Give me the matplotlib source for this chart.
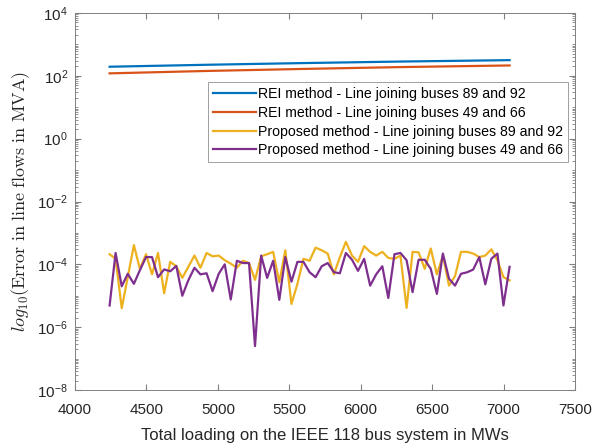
import matplotlib
matplotlib.use('Agg')
import matplotlib.pyplot as plt  # noqa
import numpy as np  # noqa
from matplotlib.ticker import FixedLocator, LogLocator, FuncFormatter, NullFormatter  # noqa

plt.rcParams.update({
    'font.family': ['Liberation Sans', 'DejaVu Sans'],
    'mathtext.fontset': 'cm',
    'font.size': 11,
})

# total system load for each run (MW), base case 4242 MW stepped by 1 %
loading = [
    4242, 4284, 4327, 4369, 4412, 4454, 4497, 4539, 4581, 4624,
    4666, 4709, 4751, 4793, 4836, 4878, 4921, 4963, 5006, 5048,
    5090, 5133, 5175, 5218, 5260, 5303, 5345, 5387, 5430, 5472,
    5515, 5557, 5599, 5642, 5684, 5727, 5769, 5812, 5854, 5896,
    5939, 5981, 6024, 6066, 6108, 6151, 6193, 6236, 6278, 6321,
    6363, 6405, 6448, 6490, 6533, 6575, 6618, 6660, 6702, 6745,
    6787, 6830, 6872, 6914, 6957, 6999, 7042,
]

# REI equivalent errors (MVA)
rei_loading = [4242, 4921, 5600, 6278, 7042]
rei_89_92 = [195, 225, 255, 285, 316]
rei_49_66 = [120, 143, 166, 190, 214]

# proposed method errors (MVA)
prop_89_92 = [
    2.1e-4, 1.5e-4, 4.0e-6, 3.9e-5, 4.1e-4, 7.2e-5, 2.1e-4, 4.8e-5, 2.3e-4, 1.2e-5,
    1.2e-4, 8.7e-5, 3.7e-5, 8.3e-5, 1.9e-4, 7.8e-5, 2.3e-4, 1.8e-4, 1.9e-4, 1.35e-4,
    1.05e-4, 7.8e-5, 1.3e-4, 1.1e-4, 3.2e-5, 1.8e-4, 2.1e-4, 2.5e-4, 2.7e-5, 2.8e-4,
    5.5e-6, 2.4e-5, 1.5e-4, 1.3e-4, 3.4e-4, 2.8e-4, 2.2e-4, 4.8e-5, 1.7e-4, 5.2e-4,
    1.9e-4, 1.2e-4, 3.8e-4, 2.5e-4, 1.9e-4, 2.5e-4, 1.6e-4, 1.5e-4, 1.9e-4, 4.1e-6,
    2.5e-4, 2.4e-4, 7.2e-5, 3.2e-4, 4.8e-5, 1.9e-4, 2.1e-5, 4.2e-5, 2.5e-4, 2.5e-4,
    2.2e-4, 1.7e-4, 1.9e-4, 3.0e-4, 1.35e-4, 3.9e-5, 3.1e-5,
]
prop_49_66 = [
    4.9e-6, 2.3e-4, 2.0e-5, 5.0e-5, 2.4e-5, 6.5e-5, 1.7e-4, 1.7e-4, 3.9e-5, 6.9e-5,
    6.0e-5, 8.9e-5, 1.0e-5, 3.1e-5, 7.8e-5, 4.8e-5, 5.2e-5, 1.4e-5, 5.0e-5, 1.0e-4,
    7.6e-6, 1.3e-4, 1.1e-4, 1.1e-4, 2.5e-7, 1.9e-4, 3.7e-5, 1.3e-4, 7.4e-6, 1.7e-4,
    2.8e-5, 1.2e-4, 1.2e-4, 5.6e-5, 3.9e-5, 8.7e-5, 1.1e-4, 5.6e-5, 5.2e-5, 2.3e-4,
    1.4e-4, 6.2e-5, 1.5e-4, 2.1e-5, 4.8e-5, 8.7e-5, 8.5e-6, 2.1e-4, 2.3e-4, 1.35e-4,
    1.3e-5, 1.4e-4, 1.4e-4, 7.2e-5, 1.15e-5, 2.2e-4, 3.5e-5, 2.1e-5, 5.0e-5, 5.6e-5,
    6.8e-5, 1.7e-4, 2.3e-5, 1.5e-4, 2.2e-4, 4.9e-6, 8.3e-5,
]

labels = [
    'REI method - Line joining buses 89 and 92',
    'REI method - Line joining buses 49 and 66',
    'Proposed method - Line joining buses 89 and 92',
    'Proposed method - Line joining buses 49 and 66',
]
colors = ['#0072BD', '#D95319', '#EDB120', '#7E2F8E']


def exp_label(v, pos):
    exp = int(round(np.log10(v)))
    return r'$\mathregular{10^{%d}}$' % exp


def plot(fname):
    fig = plt.figure(figsize=(6.07, 4.47), dpi=100)
    ax = fig.add_axes([0.1236, 0.1275, 0.8237, 0.8434])

    series = [
        (rei_loading, rei_89_92),
        (rei_loading, rei_49_66),
        (loading, prop_89_92),
        (loading, prop_49_66),
    ]
    for (xs, ys), label, c in zip(series, labels, colors):
        ax.plot(xs, ys, color=c, lw=1.6, label=label)

    ax.set_yscale('log')
    ax.set_xlim(4000, 7500)
    ax.set_ylim(1e-8, 1e4)
    ax.set_xticks(range(4000, 7501, 500))
    ax.yaxis.set_major_locator(FixedLocator([10.0 ** k for k in range(-8, 5, 2)]))
    ax.yaxis.set_minor_locator(LogLocator(base=10, subs=np.arange(1, 10), numticks=40))
    ax.yaxis.set_minor_formatter(NullFormatter())
    ax.yaxis.set_major_formatter(FuncFormatter(exp_label))

    for s in ax.spines.values():
        s.set_color('#808080')
        s.set_linewidth(0.7)
    ax.tick_params(which='both', direction='in', top=True, right=True,
                   colors='#808080', labelcolor='#262626', labelsize=11)
    ax.tick_params(which='major', length=4)
    ax.tick_params(which='minor', length=2)
    ax.tick_params(axis='x', pad=9)
    ax.tick_params(axis='y', pad=5)

    ax.set_xlabel('Total loading on the IEEE 118 bus system in MWs',
                  color='#262626', fontsize=12, labelpad=8)
    ax.set_ylabel(r'$log_{10}(\mathrm{Error\ in\ line\ flows\ in\ MVA})$',
                  color='#262626', fontsize=13, labelpad=4)

    leg = ax.legend(loc='upper right', bbox_to_anchor=(0.986, 0.817),
                    fontsize=10.2, handlelength=3.0, handletextpad=0.15,
                    labelspacing=0.34, borderpad=0.35, borderaxespad=0,
                    fancybox=False, framealpha=1)
    leg.get_frame().set_edgecolor('#a0a0a0')
    leg.get_frame().set_linewidth(0.7)

    fig.savefig(fname, dpi=100)


if __name__ == '__main__':
    plot('out.png')
